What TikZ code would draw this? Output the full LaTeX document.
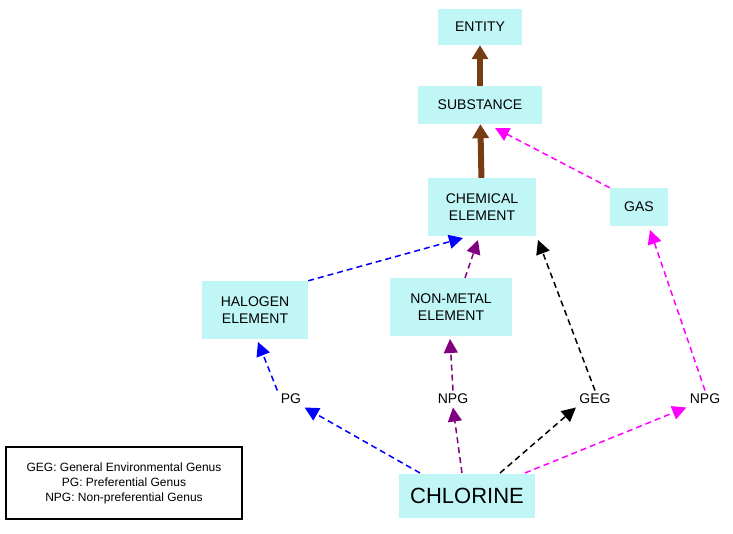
\documentclass[tikz,border=0pt]{standalone}
\usepackage{fontspec}
\setmainfont{Liberation Sans}
\usetikzlibrary{arrows.meta}
\definecolor{boxcyan}{RGB}{192,246,246}
\definecolor{brownarr}{RGB}{120,60,20}
\definecolor{purplearr}{RGB}{128,0,128}
\definecolor{pinkarr}{RGB}{255,0,255}
\tikzset{
  concept/.style={fill=boxcyan,align=center,font=\fontsize{14}{17}\selectfont,inner sep=0pt},
  tag/.style={font=\fontsize{14}{17}\selectfont},
  tip/.style={-{Triangle[length=14pt,width=14pt]}},
  isa/.style={-{Triangle[length=14pt,width=16pt]},line width=6pt,brownarr},
  rel/.style={tip,dash pattern=on 6pt off 4pt,line width=1.5pt}
}
\begin{document}
\begin{tikzpicture}[x=1pt,y=-1pt]
        \useasboundingbox (0,0) rectangle (733,534);

        \node[concept,minimum width=84,minimum height=36](entity)at(480,27){ENTITY};
        \node[concept,minimum width=124,minimum height=38](substance)at(480,105){SUBSTANCE};
        \node[concept,minimum width=108,minimum height=58](chemical)at(482,207){CHEMICAL\\ELEMENT};
        \node[concept,minimum width=58,minimum height=38](gas)at(639,207){GAS};
        \node[concept,minimum width=106,minimum height=58](halogen)at(255,310){HALOGEN\\ELEMENT};
        \node[concept,minimum width=122,minimum height=58](nonmetal)at(451,307){NON-METAL\\ELEMENT};
        \node[concept,minimum width=136,minimum height=44,font=\fontsize{22}{26}\selectfont](chlorine)at(467,496){CHLORINE};

        \node[tag](pg)at(291,399){PG};
        \node[tag](npga)at(453,399){NPG};
        \node[tag](geg)at(595,399){GEG};
        \node[tag](npgb)at(705,399){NPG};

        \node[draw,line width=1.3pt,minimum width=236,minimum height=72,align=center,font=\fontsize{12}{15}\selectfont](legend)at(124,483)
          {GEG: General Environmental Genus\\PG: Preferential Genus\\NPG: Non-preferential Genus};

        \coordinate (c1) at (420,473);
        \coordinate (c2) at (462,473);
        \coordinate (c3) at (500,473);
        \coordinate (c4) at (525,473);

        \draw[isa](substance)--(entity);
        \draw[isa](chemical)--(substance);
        \draw[rel,pinkarr](gas.north west)--(495,128);
        \draw[rel,blue](halogen.north east)--(463,238);
        \draw[rel,purplearr](465,278)--(478,240);
        \draw[rel,black](geg.north)--(538,240);
        \draw[rel,pinkarr](npgb.north)--(650,230);
        \draw[rel,blue](pg.north west)--(258,342);
        \draw[rel,purplearr](npga.north)--(450,339);
        \draw[rel,blue](c1)--(pg.south east);
        \draw[rel,purplearr](c2)--(npga.south);
        \draw[rel,black](c3)--(geg.south west);
        \draw[rel,pinkarr](c4)--(npgb.south west);
    \end{tikzpicture}
\end{document}
